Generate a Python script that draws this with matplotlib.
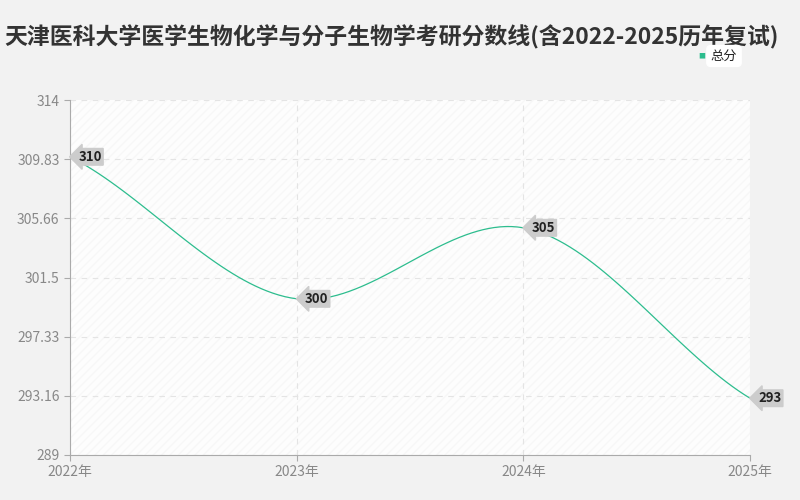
import numpy as np
import matplotlib
matplotlib.use("Agg")
import matplotlib.pyplot as plt
from matplotlib.patches import Rectangle

plt.rcParams['font.family'] = ['Noto Sans CJK SC', 'DejaVu Sans']

years = ["2022年", "2023年", "2024年", "2025年"]
scores = [310, 300, 305, 293]
yticks = [289, 293.16, 297.33, 301.5, 305.66, 309.83, 314]
ylabels = ["289", "293.16", "297.33", "301.5", "305.66", "309.83", "314"]
title = "天津医科大学医学生物化学与分子生物学考研分数线(含2022-2025历年复试)"
color = "#2dbd8e"

fig = plt.figure(figsize=(8, 5), dpi=100)
fig.patch.set_facecolor("#f2f2f2")
ax = fig.add_axes([70/800, 45/500, 680/800, 355/500])
ax.set_facecolor("#fdfdfd")
ax.add_patch(Rectangle((0, 0), 1, 1, transform=ax.transAxes, facecolor="none",
                       hatch="////", edgecolor="#f7f7f7", linewidth=0, zorder=0))

x = np.arange(len(scores))
y = np.array(scores, float)
xs, ys = [], []
n = len(x)
for i in range(n - 1):
    p0 = y[max(i - 1, 0)]; p1 = y[i]; p2 = y[i + 1]; p3 = y[min(i + 2, n - 1)]
    m1 = (p2 - p0) / (2 if 0 < i else 1) * 0.8
    m2 = (p3 - p1) / (2 if i + 2 < n else 1) * 0.8
    t = np.linspace(0, 1, 40)
    h00 = 2*t**3 - 3*t**2 + 1; h10 = t**3 - 2*t**2 + t
    h01 = -2*t**3 + 3*t**2; h11 = t**3 - t**2
    xs.extend(x[i] + t); ys.extend(h00*p1 + h10*m1 + h01*p2 + h11*m2)
ax.plot(xs, ys, color=color, lw=0.9, zorder=3)

for xi, yi in zip(x, y):
    ax.annotate(f"{int(yi)}", (xi, yi), xytext=(6, 0), textcoords="offset points",
                va="center", ha="left", fontsize=9.5, color="#222", fontweight="bold",
                bbox=dict(boxstyle="larrow,pad=0.1", fc="#cccccc", ec="#cccccc"),
                zorder=5, annotation_clip=False)

ax.set_xlim(0, 3)
ax.set_ylim(289, 314)
ax.set_xticks(x)
ax.set_xticklabels(years, color="#888", fontsize=10)
ax.set_yticks(yticks)
ax.set_yticklabels(ylabels, color="#888", fontsize=10)
ax.grid(True, color="#e4e4e4", ls=(0, (5, 5)), lw=0.8)
for s in ["top", "right"]:
    ax.spines[s].set_visible(False)
for s in ["left", "bottom"]:
    ax.spines[s].set_color("#aaa")
ax.tick_params(length=4, color="#aaa")

fig.text(0.49, 0.925, title, ha="center", va="center", fontsize=16.5,
         fontweight="bold", color="#333")
fig.text(0.905, 0.888, "总分", ha="center", va="center", fontsize=9.5, color="#222",
         bbox=dict(boxstyle="round,pad=0.3", fc="white", ec="white"))
fig.text(0.877, 0.888, "■", ha="center", va="center", fontsize=5, color=color)
fig.savefig("out.png", dpi=100, facecolor=fig.get_facecolor())
